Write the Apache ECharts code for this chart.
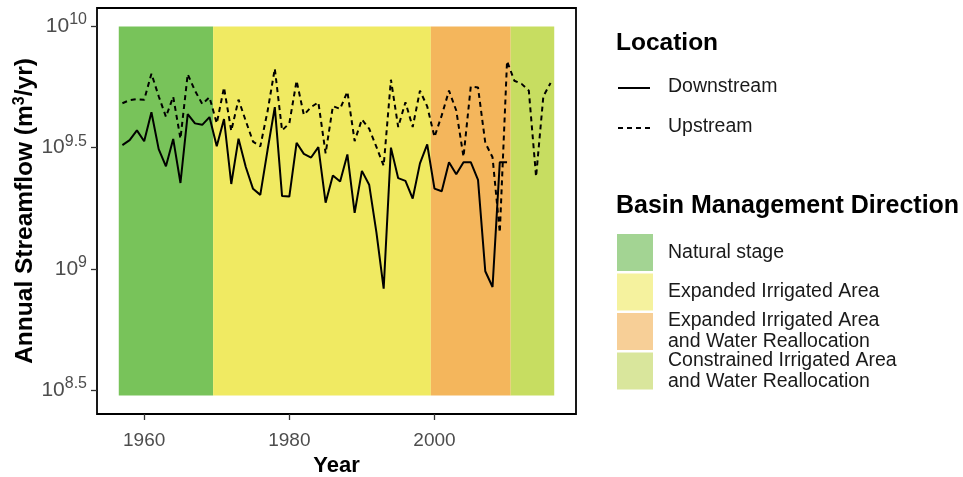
<!DOCTYPE html>
<html>
<head>
<meta charset="utf-8">
<script src="https://cdn.jsdelivr.net/npm/echarts@6/dist/echarts.min.js"></script>
<style>
  html, body { margin: 0; padding: 0; background: #ffffff; }
  #chart { width: 963px; height: 477px; }
</style>
</head>
<body>
<div id="chart"></div>
<script>
// Years with a downstream record
const downstreamYears = [
  1957, 1958, 1959, 1960, 1961, 1962, 1963, 1964, 1965, 1966,
  1967, 1968, 1969, 1970, 1971, 1972, 1973, 1974, 1975, 1976,
  1977, 1978, 1979, 1980, 1981, 1982, 1983, 1984, 1985, 1986,
  1987, 1988, 1989, 1990, 1991, 1992, 1993, 1994, 1995, 1996,
  1997, 1998, 1999, 2000, 2001, 2002, 2003, 2004, 2005, 2006,
  2007, 2008, 2009, 2010
];
// log10 of annual streamflow (m³/yr), downstream station
const downstreamLog10 = [
  9.510, 9.531, 9.571, 9.526, 9.646, 9.494, 9.423, 9.536, 9.354, 9.638,
  9.600, 9.594, 9.626, 9.506, 9.618, 9.350, 9.537, 9.420, 9.330, 9.305,
  9.490, 9.667, 9.300, 9.298, 9.520, 9.474, 9.459, 9.502, 9.273, 9.385,
  9.360, 9.472, 9.231, 9.404, 9.347, 9.150, 8.918, 9.500, 9.374, 9.363,
  9.290, 9.435, 9.513, 9.331, 9.320, 9.440, 9.390, 9.440, 9.440, 9.367,
  8.990, 8.925, 9.440, 9.440
];

// Years with an upstream record
const upstreamYears = [
  1957, 1958, 1959, 1960, 1961, 1962, 1963, 1964, 1965, 1966,
  1967, 1968, 1969, 1970, 1971, 1972, 1973, 1974, 1975, 1976,
  1977, 1978, 1979, 1980, 1981, 1982, 1983, 1984, 1985, 1986,
  1987, 1988, 1989, 1990, 1991, 1992, 1993, 1994, 1995, 1996,
  1997, 1998, 1999, 2000, 2001, 2002, 2003, 2004, 2005, 2006,
  2007, 2008, 2009, 2010, 2011, 2012, 2013, 2014, 2015, 2016
];
// log10 of annual streamflow (m³/yr), upstream station
const upstreamLog10 = [
  9.683, 9.696, 9.700, 9.697, 9.805, 9.712, 9.627, 9.710, 9.537, 9.803,
  9.735, 9.680, 9.708, 9.600, 9.748, 9.569, 9.698, 9.610, 9.525, 9.505,
  9.650, 9.826, 9.571, 9.600, 9.776, 9.635, 9.667, 9.687, 9.476, 9.671,
  9.660, 9.731, 9.527, 9.616, 9.578, 9.503, 9.425, 9.780, 9.585, 9.687,
  9.585, 9.735, 9.670, 9.544, 9.633, 9.735, 9.653, 9.462, 9.752, 9.748,
  9.520, 9.460, 9.150, 9.857, 9.776, 9.763, 9.735, 9.380, 9.712, 9.767
];

// Basin management periods
const periodNames = [
  'Natural stage',
  'Expanded Irrigated Area',
  'Expanded Irrigated Area\nand Water Reallocation',
  'Constrained Irrigated Area\nand Water Reallocation'
];
const periodStart = [1956.5, 1969.5, 1999.5, 2010.5];
const periodEnd   = [1969.5, 1999.5, 2010.5, 2016.5];
const periodFlowLow = 3e8;
const periodFlowHigh = 1e10;

// Axis ticks
const yearTicks = [1960, 1980, 2000];
const flowTickExponents = [8.5, 9, 9.5, 10];

// Styling
const bandColors = ['#78c35a', '#f0ea62', '#f4b65c', '#c7dd61'];
const keyColors  = ['#a3d493', '#f5f29e', '#f7cf97', '#d9e69c'];
const FONT = '"Liberation Sans", Arial, Helvetica, sans-serif';

const chart = echarts.init(document.getElementById('chart'), null, { renderer: 'canvas' });

const toSeries = (years, logs) => years.map((y, i) => [y, Math.pow(10, logs[i])]);

const bandAreas = periodStart.map((s, i) => [
  { xAxis: s, yAxis: periodFlowLow, itemStyle: { color: bandColors[i], opacity: 1 } },
  { xAxis: periodEnd[i], yAxis: periodFlowHigh }
]);

const supFormatter = (v) => {
  const e = Math.round(Math.log10(v) * 10) / 10;
  return '{b|10}{s|' + e + '}';
};

// Legend built from graphic elements
const legendX = 616;
const textX = 668;
const graphics = [
  { type: 'text', left: legendX, top: 31, style: { text: 'Location', font: 'bold 24.5px ' + FONT, fill: '#000' } },
  { type: 'line', shape: { x1: 618, y1: 88, x2: 650, y2: 88 }, style: { stroke: '#000', lineWidth: 2 } },
  { type: 'text', left: textX, top: 77, style: { text: 'Downstream', font: '19.5px ' + FONT, fill: '#1a1a1a' } },
  { type: 'line', shape: { x1: 618, y1: 128, x2: 650, y2: 128 }, style: { stroke: '#000', lineWidth: 2, lineDash: [5, 4] } },
  { type: 'text', left: textX, top: 117, style: { text: 'Upstream', font: '19.5px ' + FONT, fill: '#1a1a1a' } },
  { type: 'text', left: legendX, top: 194, style: { text: 'Basin Management Direction', font: 'bold 25px ' + FONT, fill: '#000' } }
];
const keyTops = [234, 273.5, 313, 352.5];
periodNames.forEach((name, i) => {
  graphics.push({
    type: 'rect',
    shape: { x: 617, y: keyTops[i], width: 36, height: 37 },
    style: { fill: keyColors[i] }
  });
  graphics.push({
    type: 'text',
    x: textX,
    y: keyTops[i] + 18.5,
    style: {
      text: name, font: '19.5px ' + FONT, fill: '#1a1a1a',
      verticalAlign: 'middle', lineHeight: 21
    }
  });
});

chart.setOption({
  animation: false,
  backgroundColor: '#ffffff',
  grid: {
    left: 97, top: 8, width: 479, height: 406,
    outerBoundsMode: 'none',
    containLabel: false,
    show: true, backgroundColor: '#ffffff', borderColor: '#000000', borderWidth: 1.8
  },
  xAxis: {
    type: 'value',
    min: 1953.5, max: 2019.5,
    name: 'Year',
    nameLocation: 'middle',
    nameGap: 40,
    nameTextStyle: { fontFamily: FONT, fontWeight: 'bold', fontSize: 22, color: '#000' },
    axisLine: { show: false },
    splitLine: { show: false },
    axisTick: { show: true, length: 6, customValues: yearTicks, lineStyle: { color: '#333', width: 1.3 } },
    axisLabel: {
      customValues: yearTicks,
      formatter: (v) => String(v),
      fontFamily: FONT, fontSize: 19, color: '#4d4d4d', margin: 17
    }
  },
  yAxis: {
    type: 'log',
    logBase: 10,
    min: Math.pow(10, 8.401),
    max: Math.pow(10, 10.076),
    name: '{t|Annual Streamflow (m}{u|3}{t|/yr)}',
    nameLocation: 'middle',
    nameRotate: 90,
    nameGap: 54,
    nameTextStyle: {
      rich: {
        t: { fontFamily: FONT, fontWeight: 'bold', fontSize: 24.5, color: '#000' },
        u: { fontFamily: FONT, fontWeight: 'bold', fontSize: 16, color: '#000', padding: [0, 0, 11, 0] }
      }
    },
    axisLine: { show: false },
    splitLine: { show: false },
    minorTick: { show: false },
    axisTick: {
      show: true, length: 6,
      customValues: flowTickExponents.map(e => Math.pow(10, e)),
      lineStyle: { color: '#333', width: 1.3 }
    },
    axisLabel: {
      customValues: flowTickExponents.map(e => Math.pow(10, e)),
      formatter: supFormatter,
      margin: 10,
      rich: {
        b: { fontFamily: FONT, fontSize: 21, color: '#4d4d4d' },
        s: { fontFamily: FONT, fontSize: 16, color: '#4d4d4d', padding: [0, 0, 13, 0] }
      }
    }
  },
  series: [
    {
      name: 'Periods',
      type: 'line',
      data: [],
      silent: true,
      z: 1,
      markArea: { silent: true, data: bandAreas }
    },
    {
      name: 'Downstream',
      type: 'line',
      data: toSeries(downstreamYears, downstreamLog10),
      showSymbol: false,
      z: 3,
      lineStyle: { color: '#000', width: 2 }
    },
    {
      name: 'Upstream',
      type: 'line',
      data: toSeries(upstreamYears, upstreamLog10),
      showSymbol: false,
      z: 3,
      lineStyle: { color: '#000', width: 2, type: [5, 4] }
    }
  ],
  graphic: graphics
});
</script>
</body>
</html>
